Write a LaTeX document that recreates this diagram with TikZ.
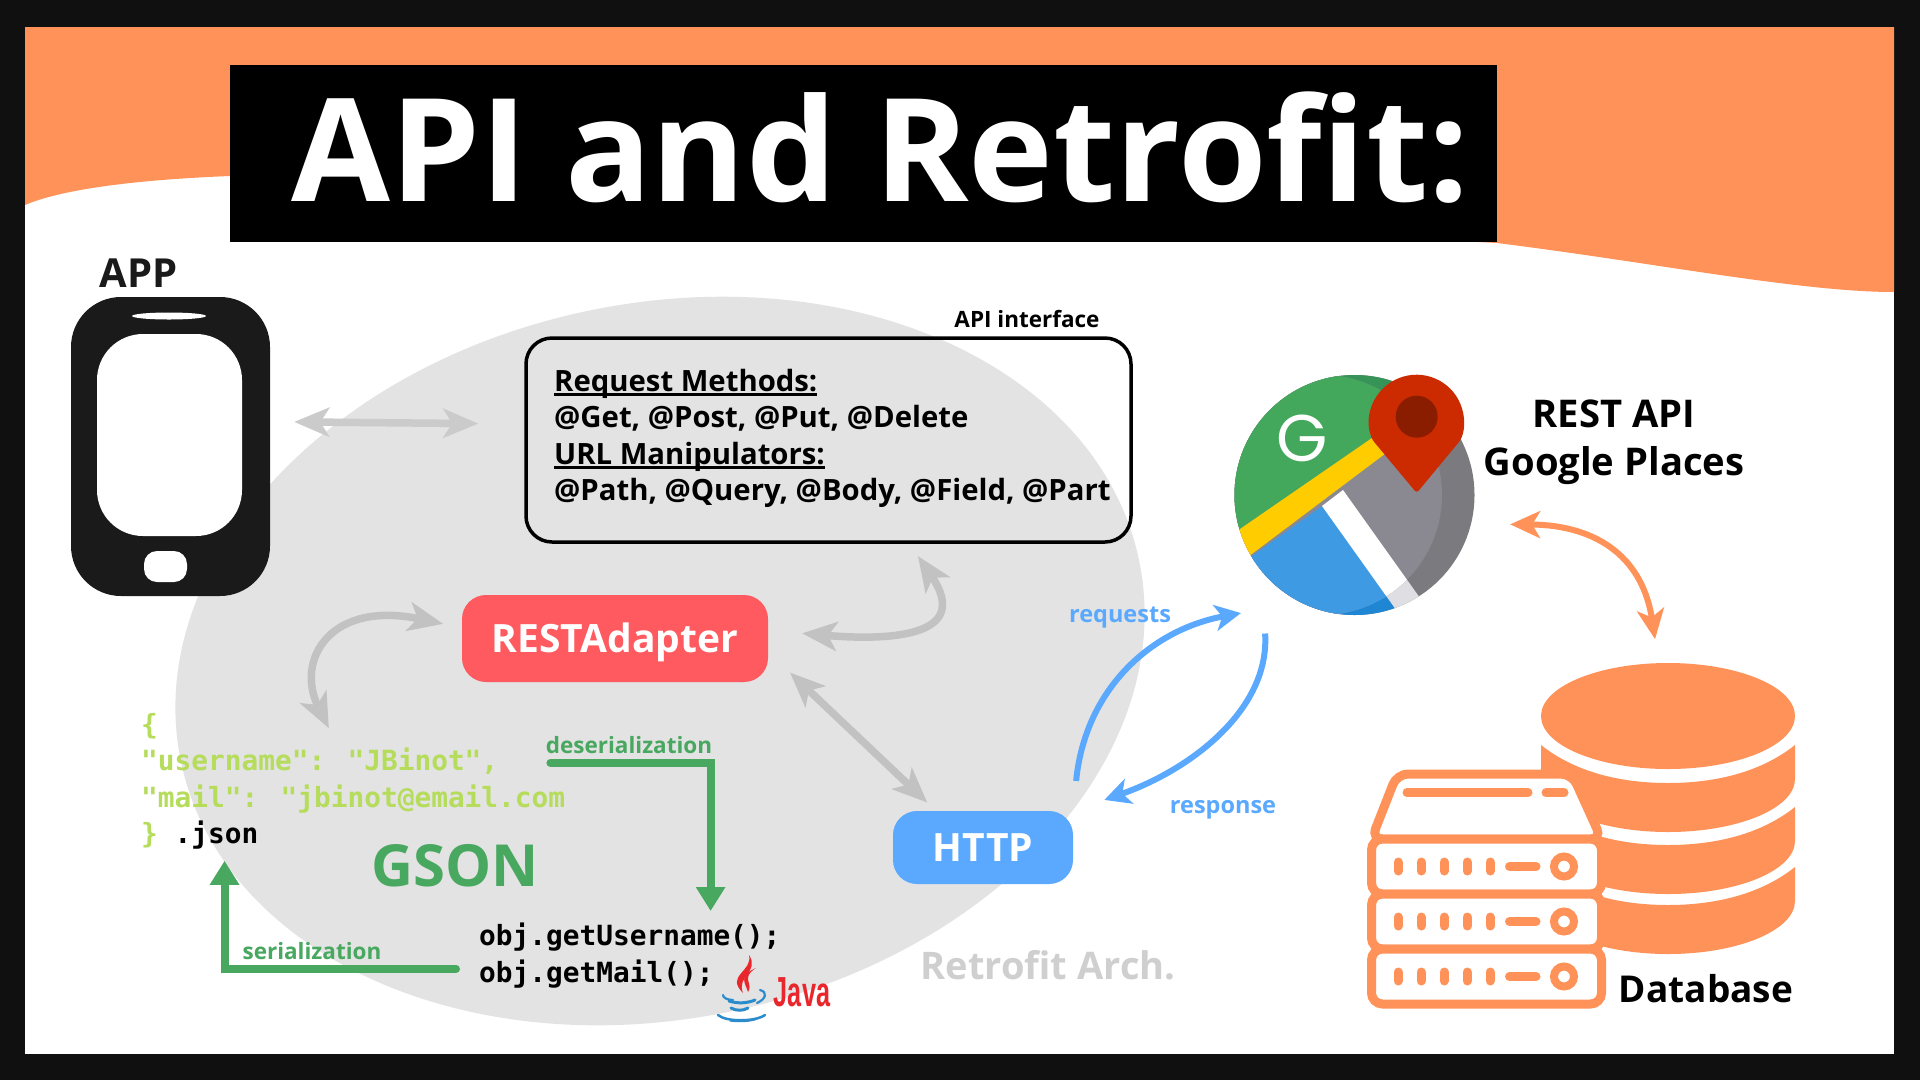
\documentclass[tikz,border=0pt]{standalone}
\usepackage{fontspec}
\usetikzlibrary{shapes.geometric, arrows.meta, positioning, fit, calc}
\setmainfont{Open Sans}
\newfontfamily\codefont{DejaVu Sans Mono}
\newfontfamily\logofont{Poppins}
\newfontfamily\javafont[FakeStretch=0.6]{Liberation Sans}
\definecolor{frameblack}{HTML}{101010}
\definecolor{bandorange}{HTML}{FF9259}
\definecolor{cloudgray}{HTML}{E3E3E3}
\definecolor{restred}{HTML}{FF5A5F}
\definecolor{httpblue}{HTML}{5AA9FF}
\definecolor{gsongreen}{HTML}{48A860}
\definecolor{jsongreen}{HTML}{B5DC5A}
\definecolor{phoneblack}{HTML}{1A1A1A}
\definecolor{pinred}{HTML}{CC2A00}
\definecolor{pindark}{HTML}{8A1D00}
\definecolor{roadyellow}{HTML}{FFCC00}
\definecolor{javablue}{HTML}{2A8CCB}
\definecolor{javared}{HTML}{E8262B}
\newcommand{\headline}[1]{\setbox0\hbox{#1}\rlap{\rule[-4.5pt]{\wd0}{2.6pt}}\box0}
\begin{document}
\begin{tikzpicture}[
      x=1pt, y=-1pt,
      lbl/.style={font=\fontsize{#1}{#1}\selectfont\bfseries, inner sep=0pt},
      pill/.style={rounded corners=24pt, text=white, inner sep=0pt, text height=28pt, text depth=0pt,
                   font=\fontsize{39}{39}\selectfont\bfseries},
      code/.style={align=left, inner sep=0pt, font=\fontsize{27.8}{36.5}\selectfont\codefont\bfseries},
      grayarr/.style={{Stealth[length=35pt,width=29pt,inset=9pt]}-{Stealth[length=35pt,width=29pt,inset=9pt]},
                      line width=7.5pt, arrowgray},
      bluearr/.style={-{Stealth[length=26pt,width=26pt,inset=7pt]}, line width=6pt, httpblue},
      orangearr/.style={{Stealth[length=30pt,width=27pt,inset=8pt]}-{Stealth[length=30pt,width=27pt,inset=8pt]},
                        line width=6pt, bandorange},
      greenarr/.style={-{Triangle[length=24pt,width=28pt]}, line width=8pt, gsongreen},
      srv/.style={draw=bandorange, line width=9pt, fill=white, rounded corners=11pt},
      srvbar/.style={draw=bandorange, line width=9pt, line cap=round},
      javaline/.style={javablue, line width=#1, line cap=round}
    ]
    \colorlet{arrowgray}{black!24}
    \useasboundingbox (0,0) rectangle (1920,1080);

    % Rahmen und Band
    \fill[frameblack] (0,0) rectangle (1920,1080);
    \fill[white] (25,27) rectangle (1894,1054);
    \fill[bandorange] (25,27) -- (1894,27) -- (1894,292)
      .. controls (1800,292) and (1650,262) .. (1497,243) -- (230,176)
      .. controls (130,180) and (60,190) .. (25,205) -- cycle;
    \node[fill=black, minimum width=1267pt, minimum height=177pt, inner sep=0pt] (titlebox) at (863.5,153.5) {};
    \node[text=white, inner sep=0pt, font=\fontsize{143.4}{144}\selectfont\bfseries] (title) at (880.5,148) {API and Retrofit:};

    % Wolke
    \node[ellipse, fill=cloudgray, minimum width=979pt, minimum height=715pt, inner sep=0pt, rotate=12] (cloud) at (660,661) {};

    % Telefon
    \node[fill=phoneblack, rounded corners=50pt, minimum width=199pt, minimum height=299pt, inner sep=0pt] (phone) at (170.5,446.5) {};
    \fill[white, rounded corners=46pt] (97,334) rectangle (242,536);
    \fill[white] (169,316) ellipse [x radius=37, y radius=3.5];
    \fill[white, rounded corners=13pt] (144,551) rectangle (187,582);
    \node[lbl=40, text=phoneblack] (applabel) at (138.5,273) {APP};

    % API interface
    \node[draw=black, line width=3.5pt, rounded corners=26pt, minimum width=605pt, minimum height=204pt, inner sep=0pt] (apibox) at (828.5,440) {};
    \node[lbl=22.5, text=black] (apilabel) at (1027,319) {API interface};
    \node[anchor=west, align=left, inner sep=0pt, font=\fontsize{29.3}{36.5}\selectfont\bfseries] (apitext) at (554,438.5)
      {\headline{Request Methods:}\\ @Get, @Post, @Put, @Delete\\ \headline{URL Manipulators:}\\ @Path, @Query, @Body, @Field, @Part};

    % Adapter und HTTP
    \node[pill, fill=restred, minimum width=306pt, minimum height=87pt] (rest) at (615,638.5) {RESTAdapter};
    \node[pill, fill=httpblue, minimum width=180pt, minimum height=73pt] (http) at (983,847.5) {HTTP};
    \node[lbl=38, text=black!19] (archlabel) at (1048,965) {Retrofit Arch.};

    % JSON und GSON
    \node[code, anchor=north west, text=jsongreen] (json) at (141,713)
      {\{\\ "username": "JBinot",\\ "mail": "jbinot@email.com\\ \} \textcolor{black}{.json}};
    \node[code, anchor=north west, text=black] (getters) at (479,923)
      {obj.getUsername();\\ obj.getMail();};
    \node[lbl=58, text=gsongreen] (gson) at (455,866) {GSON};
    \node[lbl=22.5, text=gsongreen] (deserlabel) at (629,745) {deserialization};
    \node[lbl=22.5, text=gsongreen] (serlabel) at (312,951) {serialization};
    \draw[greenarr, line cap=round, shorten <=-15pt, shorten >=12pt] (json.5.5) -| (getters.22);
    \draw[greenarr, line cap=round, shorten <=23pt, shorten >=11pt] (getters.185) -| (json.208.1);

    % Java
    \node[text=javared, inner sep=0pt, font=\fontsize{42}{42}\selectfont\javafont\bfseries] (javatext) at (802,992) {Java};
    \fill[javared] (749,955) .. controls (753,972) and (725,975) .. (743,993)
      .. controls (736,976) and (760,972) .. (749,955);
    \fill[javared] (756,968) .. controls (737,976) and (746,984) .. (748,992)
      .. controls (754,984) and (740,978) .. (756,968);
    \draw[javaline=2.2pt] (723,995) .. controls (723,998) and (728,1000) .. (733,1000);
    \draw[javaline=2.2pt] (760,990) .. controls (768,992) and (766,999) .. (757,1003);
    \draw[javaline=3pt] (729,1001) .. controls (738,1004) and (748,1003) .. (755,1000);
    \draw[javaline=3pt] (731,1008) .. controls (736,1011) and (743,1011) .. (748,1008);
    \draw[javaline=2.5pt] (718,1015) .. controls (726,1022) and (755,1022) .. (765,1015);
    \draw[javaline=1.2pt] (730,1021) .. controls (738,1022) and (750,1022) .. (757,1019);

    % Google Maps
    \node[circle, minimum size=240pt, inner sep=0pt] (maps) at (1354.5,495) {};
    \begin{scope}
      \clip (maps.center) circle [radius=120];
      \foreach \cx/\cgreen/\cblue/\cgray/\croad in {1354.5/379459/1F86D3/7B7A7E/DFDFE3, 1322/43A85C/3E9AE3/8A8890/FFFFFF}{
        \begin{scope}
          \clip (\cx,495) circle [radius=120];
          \definecolor{cg}{HTML}{\cgreen}\definecolor{cb}{HTML}{\cblue}
          \definecolor{cy}{HTML}{\cgray}\definecolor{cr}{HTML}{\croad}
          \fill[cy] (1200,340) rectangle (1500,640);
          \fill[cg] (1200,340) -- (1500,340) -- (1500,350) -- (1200,556.6) -- cycle;
          \fill[cb] (1200,593) -- (1322,506) -- (1420,640) -- (1200,640) -- cycle;
          \fill[cr] (1322,506) -- (1343,490) -- (1430,612) -- (1409,628) -- cycle;
          \fill[roadyellow] (1200,556.6) -- (1430,398) -- (1430,420) -- (1200,593) -- cycle;
        \end{scope}
      }
    \end{scope}
    \node[inner sep=0pt, text=white, font=\fontsize{66}{66}\selectfont\logofont] (glogo) at (1302.5,438) {G};
    \fill[pinred, rounded corners=3pt] (1416.7,493) -- (1372.5,440)
      arc [start angle=158, end angle=382, radius=47.5] -- cycle;
    \fill[pindark] (1416.7,416.7) circle [radius=21];
    \node[lbl=38.2, align=center, font=\fontsize{38.2}{48}\selectfont\bfseries] (restlabel) at (1614,442) {REST API\\ Google Places};

    % Datenbank
    \node[ellipse, fill=bandorange, minimum width=254pt, minimum height=106pt, inner sep=0pt] (dbcyl) at (1668,716) {};
    \foreach \dy in {0,62,122}
      \fill[bandorange, shift={(0,\dy)}] (1541,745) .. controls (1575,772) and (1620,783) .. (1668,783)
        .. controls (1716,783) and (1761,772) .. (1795,745) -- (1795,779)
        arc [start angle=0, end angle=180, x radius=127, y radius=53] -- cycle;
    \draw[srv] (1371.5,839) -- (1397,774) -- (1572,774) -- (1601.5,839) -- cycle;
    \foreach \ytop in {839,894,949}{
      \draw[srv] (1371.5,\ytop) rectangle (1601.5,\ytop+55);
      \foreach \xdot in {1398,1421,1444,1467,1490}
        \draw[srvbar] (\xdot,\ytop+23) -- (\xdot,\ytop+32);
      \draw[srvbar] (1509.5,\ytop+27.5) -- (1536,\ytop+27.5);
      \draw[bandorange, line width=8pt, fill=white] (1564,\ytop+27.5) circle [radius=10];
    }
    \draw[srvbar] (1407,792.7) -- (1528,792.7);
    \draw[srvbar] (1546,792.7) -- (1564,792.7);
    \node[lbl=37, text=black] (dblabel) at (1706,989) {Database};

    % Verbindungen
    \draw[grayarr, arrowgray!85, shorten <=24pt, shorten >=46pt] (phone.14.6) -- (apibox.177.2);
    \draw[grayarr, shorten <=34pt, shorten >=15pt] (rest.3) .. controls (880,640) and (975,640) .. (apibox.-52);
    \draw[grayarr, shorten <=19pt, shorten >=-17pt] (rest.176) .. controls (330,600) and (295,660) .. (json.115);
    \draw[grayarr, shorten <=30pt, shorten >=12pt] (rest.-5) -- (http.142);
    \draw[bluearr, shorten <=30pt, shorten >=60pt] (http.north east) .. controls (1085,690) and (1150,630) .. (maps.243);
    \draw[bluearr, shorten <=63pt, shorten >=33pt] (maps.219) .. controls (1270,710) and (1190,770) .. (http.north east);
    \draw[orangearr, shorten <=39pt, shorten >=24pt] (maps.-14) .. controls (1600,525) and (1643,560) .. (dbcyl.100);
    \node[lbl=23.5, text=httpblue] (reqlabel) at (1120,618) {requests};
    \node[lbl=23.5, text=httpblue] (resplabel) at (1223,810) {response};
  \end{tikzpicture}
\end{document}
